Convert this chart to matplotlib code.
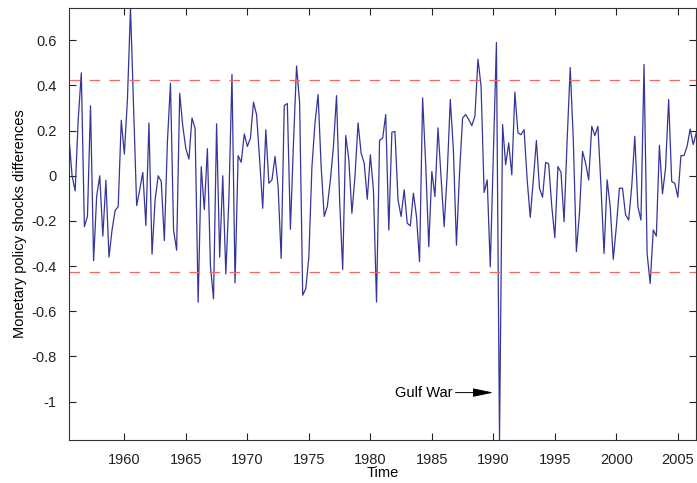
import numpy as np
import matplotlib
matplotlib.use("Agg")
import matplotlib.pyplot as plt

plt.rcParams['font.family'] = ['Liberation Sans', 'DejaVu Sans']

# Data: quarterly monetary policy shock differences, 1955Q3 - 2006Q3
start_year = 1955.5
shocks = [
    0.17, 0.0, -0.067, 0.25, 0.456, -0.225, -0.18, 0.31, -0.376, -0.09,
    0.0, -0.267, -0.02, -0.36, -0.24, -0.154, -0.136, 0.246, 0.096, 0.338,
    0.742, 0.3, -0.132, -0.062, 0.015, -0.22, 0.234, -0.347, -0.107, 0.0,
    -0.025, -0.287, 0.15, 0.41, -0.24, -0.33, 0.365, 0.22, 0.12, 0.074,
    0.256, 0.21, -0.56, 0.04, -0.15, 0.12, -0.40, -0.545, 0.23, -0.36,
    0.0, -0.435, -0.1, 0.449, -0.474, 0.089, 0.06, 0.185, 0.13, 0.167,
    0.326, 0.27, 0.07, -0.144, 0.204, -0.033, -0.018, 0.086, -0.047, -0.366,
    0.311, 0.32, -0.237, 0.145, 0.486, 0.323, -0.529, -0.5, -0.36, 0.04,
    0.234, 0.36, 0.04, -0.18, -0.136, -0.018, 0.13, 0.355, -0.107, -0.415,
    0.178, 0.071, -0.166, -0.003, 0.234, 0.1, 0.056, -0.104, 0.093, -0.062,
    -0.559, 0.157, 0.167, 0.271, -0.24, 0.193, 0.196, -0.107, -0.18, -0.062,
    -0.21, -0.222, -0.077, -0.18, -0.38, 0.345, 0.05, -0.314, 0.019, -0.092,
    0.212, -0.003, -0.225, 0.012, 0.338, 0.116, -0.307, 0.012, 0.256, 0.271,
    0.249, 0.222, 0.264, 0.516, 0.397, -0.074, -0.018, -0.403, 0.1, 0.59,
    -1.17, 0.227, 0.049, 0.145, 0.004, 0.37, 0.19, 0.182, 0.204, -0.018,
    -0.184, -0.018, 0.156, -0.055, -0.095, 0.059, 0.053, -0.136, -0.274, 0.041,
    0.015, -0.203, 0.16, 0.479, 0.16, -0.336, -0.166, 0.108, 0.056, -0.018,
    0.219, 0.178, 0.219, -0.047, -0.344, -0.018, -0.136, -0.37, -0.225, -0.055,
    -0.055, -0.173, -0.196, -0.047, 0.175, -0.136, -0.196, 0.493, -0.344, -0.477,
    -0.24, -0.267, 0.135, -0.08, 0.034, 0.338, -0.025, -0.033, -0.095, 0.089,
    0.09, 0.13, 0.207, 0.138, 0.19,
]
band = 0.425
year_ticks = [1960, 1965, 1970, 1975, 1980, 1985, 1990, 1995, 2000, 2005]
y_ticks = [-1, -0.8, -0.6, -0.4, -0.2, 0, 0.2, 0.4, 0.6]
y_tick_labels = ['-1', '-0.8', '-0.6', '-0.4', '-0.2', '0', '0.2', '0.4', '0.6']

shocks = np.array(shocks)
t = start_year + np.arange(len(shocks)) / 4.0

fig = plt.figure(figsize=(6.97, 4.83), dpi=100)
ax = fig.add_axes([0.099, 0.089, 0.9, 0.894])

ax.plot(t, shocks, color='#35359a', lw=0.9)
ax.axhline(band, color='#f06a6a', lw=0.9, dashes=(8.5, 7.5))
ax.axhline(-band, color='#f06a6a', lw=0.9, dashes=(8.5, 7.5))

ax.annotate('Gulf War', xy=(1990.0, -0.96), xytext=(1986.7, -0.96),
            ha='right', va='center', fontsize=10.5,
            arrowprops=dict(arrowstyle='-|>,head_length=1.2,head_width=0.25',
                            color='k', lw=0.7, shrinkA=0, shrinkB=0))

ax.set_xlim(t[0], t[-1])
ax.set_ylim(shocks.min(), shocks.max())
ax.set_xticks(year_ticks)
ax.set_yticks(y_ticks)
ax.set_yticklabels(y_tick_labels)
ax.tick_params(direction='in', top=True, right=True, length=5,
               labelsize=10.5, colors='#222222', width=0.8)
ax.tick_params(axis='x', pad=9)
ax.tick_params(axis='y', pad=9)
for s in ax.spines.values():
    s.set_color('#333333')
    s.set_linewidth(0.8)

ax.set_xlabel('Time', fontsize=10.5, labelpad=-0.3)
ax.set_ylabel('Monetary policy shocks differences', fontsize=10.5, labelpad=3)

fig.savefig('out.png', dpi=100)
